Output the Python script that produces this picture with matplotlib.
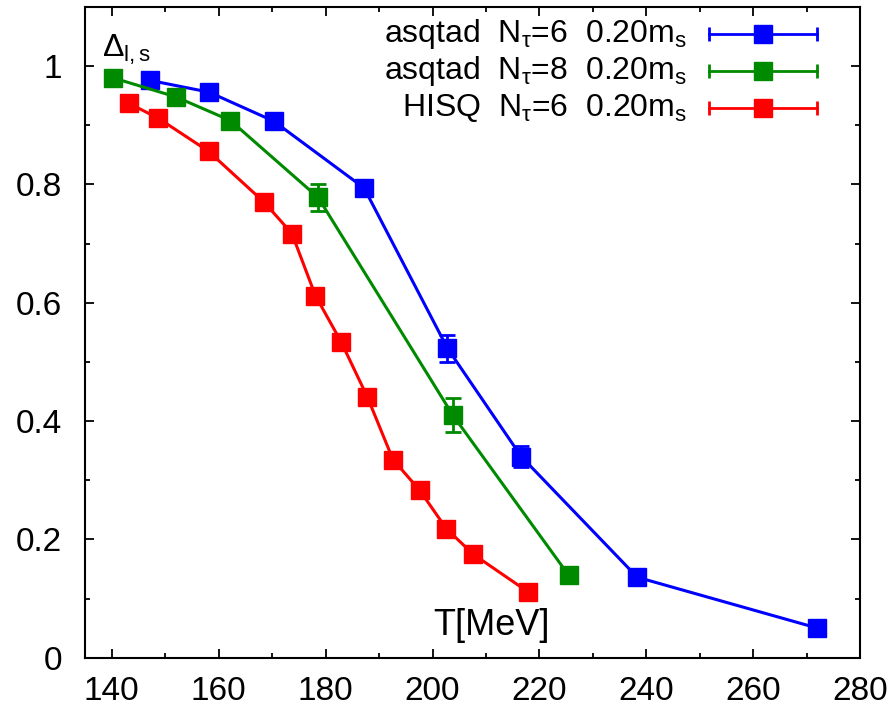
"""
Delta_l,s vs temperature: asqtad Nt=6, asqtad Nt=8, HISQ Nt=6 at 0.20 m_s
"""

import numpy as np
import matplotlib
matplotlib.use('Agg')
import matplotlib.pyplot as plt
from matplotlib.ticker import MultipleLocator

plt.rcParams['font.family'] = ['Liberation Sans', 'DejaVu Sans']
plt.rcParams['mathtext.fontset'] = 'custom'
plt.rcParams['mathtext.rm'] = 'Liberation Sans'
plt.rcParams['mathtext.it'] = 'Liberation Sans'
plt.rcParams['mathtext.default'] = 'regular'

# ============================================================================
# DADOS
# ============================================================================

asq6_T = [147.1, 158.2, 170.3, 187.2, 202.8, 216.6, 238.3, 272.0]
asq6_D = [0.976, 0.956, 0.907, 0.794, 0.523, 0.340, 0.136, 0.050]
asq6_err = [0.0, 0.0, 0.0, 0.0, 0.0225, 0.018, 0.0, 0.0]

asq8_T = [140.3, 152.0, 162.2, 178.6, 203.8, 225.5]
asq8_D = [0.980, 0.948, 0.908, 0.778, 0.410, 0.139]
asq8_err = [0.0, 0.0, 0.0, 0.0225, 0.029, 0.008]

hisq6_T = [143.2, 148.7, 158.1, 168.5, 173.7, 178.1, 182.9, 187.8,
           192.6, 197.6, 202.6, 207.6, 217.9]
hisq6_D = [0.937, 0.912, 0.856, 0.770, 0.717, 0.612, 0.534, 0.441,
           0.335, 0.283, 0.218, 0.175, 0.111]
hisq6_err = [0.0] * len(hisq6_T)

labels = [r'asqtad  N$_\tau$=6  0.20m$_s$',
          r'asqtad  N$_\tau$=8  0.20m$_s$',
          r'HISQ  N$_\tau$=6  0.20m$_s$']
colors = ['#0000ff', '#008a00', '#ff0000']

series = [(asq6_T, asq6_D, asq6_err),
          (asq8_T, asq8_D, asq8_err),
          (hisq6_T, hisq6_D, hisq6_err)]

# ============================================================================
# FIGURA
# ============================================================================

fig = plt.figure(figsize=(8.96, 7.12), dpi=100)
ax = fig.add_axes([0.0949, 0.0763, 0.8651, 0.9139])

for (T, D, err), col in zip(series, colors):
    ax.errorbar(T, D, yerr=err, color=col, lw=2.2, marker='s', ms=13,
                mec=col, mfc=col, elinewidth=2, capsize=6, capthick=2)

ax.set_xlim(135, 280)
ax.set_ylim(0, 1.1)
ax.xaxis.set_major_locator(MultipleLocator(20))
ax.xaxis.set_minor_locator(MultipleLocator(10))
ax.yaxis.set_major_locator(MultipleLocator(0.2))
ax.yaxis.set_minor_locator(MultipleLocator(0.1))
ax.yaxis.set_major_formatter(plt.FuncFormatter(lambda v, p: f'{v:g}'))

ax.tick_params(which='both', direction='in', top=True, right=True,
               width=1.3, labelsize=24)
ax.tick_params(which='major', length=6.5)
ax.tick_params(which='minor', length=3.3)
ax.tick_params(axis='y', which='major', pad=16.5)
ax.tick_params(axis='x', which='major', pad=13)
for sp in ax.spines.values():
    sp.set_linewidth(1.5)

# legenda manual (estilo gnuplot: texto a direita, linha com barras nas pontas)
leg_y = [0.958, 0.9017, 0.845]
for lab, col, yy in zip(labels, colors, leg_y):
    ax.text(0.7768, yy, lab, transform=ax.transAxes, ha='right', va='center',
            fontsize=23)
    ax.plot([0.805, 0.9445], [yy, yy], transform=ax.transAxes, color=col,
            lw=2, marker='|', ms=10, mew=2, markevery=[0, 1])
    ax.plot([0.8748], [yy], transform=ax.transAxes, color=col, marker='s',
            ms=13, ls='none')

ax.text(0.0215, 0.924, r'$\Delta_{l,s}$', transform=ax.transAxes,
        ha='left', va='baseline', fontsize=23)
ax.text(0.4486, 0.035, 'T[MeV]', transform=ax.transAxes,
        ha='left', va='baseline', fontsize=26)

plt.savefig('out.png', dpi=100)
